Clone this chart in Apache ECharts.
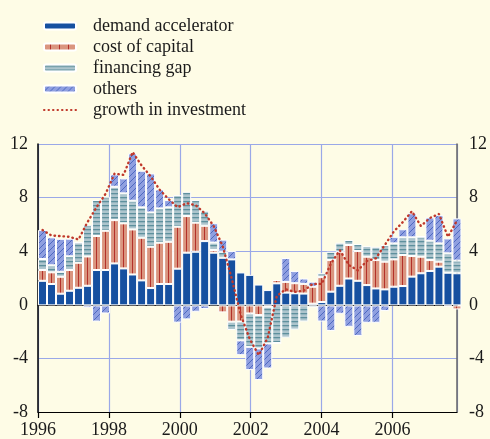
<!DOCTYPE html>
<html>
<head>
<meta charset="utf-8">
<script src="https://cdn.jsdelivr.net/npm/echarts@6/dist/echarts.min.js"></script>
<style>
  html, body { margin: 0; padding: 0; background: #fefce6; }
  #main { width: 490px; height: 439px; }
</style>
</head>
<body>
<div id="main"></div>
<script>
// quarterly observations 1996Q1 - 2007Q3
var quarters = [
  '1996Q1','1996Q2','1996Q3','1996Q4','1997Q1','1997Q2','1997Q3','1997Q4',
  '1998Q1','1998Q2','1998Q3','1998Q4','1999Q1','1999Q2','1999Q3','1999Q4',
  '2000Q1','2000Q2','2000Q3','2000Q4','2001Q1','2001Q2','2001Q3','2001Q4',
  '2002Q1','2002Q2','2002Q3','2002Q4','2003Q1','2003Q2','2003Q3','2003Q4',
  '2004Q1','2004Q2','2004Q3','2004Q4','2005Q1','2005Q2','2005Q3','2005Q4',
  '2006Q1','2006Q2','2006Q3','2006Q4','2007Q1','2007Q2','2007Q3'
];
var demandAccelerator = [
  1.83, 1.59, 0.87, 1.09, 1.31, 1.46, 2.63, 2.63, 3.12, 2.75,
  2.30, 1.86, 1.29, 1.59, 1.59, 2.73, 3.92, 3.99, 4.78, 3.92,
  3.54, 3.42, 2.45, 2.27, 1.55, 1.14, 1.64, 0.95, 0.90, 0.88,
  0.13, 0.25, 1.02, 1.46, 2.00, 1.83, 1.51, 1.26, 1.19, 1.39,
  1.44, 2.14, 2.39, 2.56, 2.88, 2.43, 2.39
];
var costOfCapital = [
  0.80, 0.87, 1.26, 1.54, 1.86, 2.18, 2.53, 2.92, 3.22, 3.35,
  3.35, 3.17, 3.07, 3.07, 3.14, 3.12, 2.72, 2.16, 1.14, 0.20,
  -0.52, -1.21, -1.20, -0.60, -0.72, -0.10, 0.25, 0.80, 0.75, 0.72,
  1.26, 1.85, 2.35, 2.53, 2.49, 2.21, 2.11, 2.11, 2.06, 2.03,
  2.31, 1.53, 1.23, 0.81, 0.37, -0.10, -0.30
];
var financingGap = [
  0.82, 0.52, 0.37, 1.02, 1.51, 2.35, 2.68, 2.53, 2.48, 2.23,
  2.13, 2.26, 2.55, 2.55, 2.56, 2.35, 1.81, 1.68, 1.12, 0.55,
  0.45, -0.62, -1.40, -2.48, -2.48, -2.73, -2.80, -2.40, -1.80, -1.20,
  -0.15, 0.30, 0.62, 0.67, 0.37, 0.52, 0.79, 0.99, 1.24, 1.19,
  1.31, 1.39, 1.49, 1.44, 1.36, 1.44, 0.94
];
var others = [
  2.16, 2.08, 2.45, 1.31, 0.00, -0.17, -1.20, -0.60, 0.92, 1.11,
  3.52, 2.72, 2.90, 1.41, 0.54, -1.28, -1.04, -0.47, -0.27, 1.44,
  0.90, 0.62, -1.10, -1.73, -2.35, -1.86, 0.00, 1.77, 0.90, 0.40,
  0.37, -1.20, -1.90, -0.62, -1.59, -2.27, -1.29, -1.29, -0.42, 0.49,
  0.60, 1.79, 0.00, 1.73, 2.10, 1.11, 3.14
];
var growthInvestment = [
  5.6, 5.2, 5.15, 5.1, 4.9, 6.2, 7.3, 8.3, 9.8, 9.7,
  11.4, 10.4, 9.6, 8.6, 7.9, 7.3, 7.6, 7.45, 6.85, 5.9,
  4.4, 2.0, -0.7, -2.5, -3.7, -2.4, 0.7, 1.2, 1.0, 1.1,
  1.6, 1.6, 3.1, 4.1, 3.0, 2.6, 3.3, 3.5, 4.5, 5.5,
  6.2, 7.0, 5.9, 6.5, 6.8, 5.1, 6.3
];
var yTicks = [-8, -4, 0, 4, 8, 12];
var yearTicks = [1996, 1998, 2000, 2002, 2004, 2006];

// small canvas tiles for the hatched fills
function tile(w, h, bg, draw) {
  var c = document.createElement('canvas');
  c.width = w; c.height = h;
  var g = c.getContext('2d');
  g.fillStyle = bg;
  g.fillRect(0, 0, w, h);
  draw(g);
  return { image: c, repeat: 'repeat' };
}
var costFill = tile(9, 4, '#da957f', function (g) {
  g.fillStyle = '#b3312a';
  g.fillRect(6, 0, 1, 4);
});
var gapFill = tile(4, 4, '#adc5cd', function (g) {
  g.fillStyle = '#5e909d';
  g.fillRect(0, 1, 4, 1.3);
});
var othersFill = tile(6, 6, '#8f9fe0', function (g) {
  g.strokeStyle = '#3d5cb8';
  g.lineWidth = 0.8;
  g.beginPath();
  g.moveTo(-1, 7); g.lineTo(7, -1);
  g.moveTo(-1, 1); g.lineTo(1, -1);
  g.moveTo(5, 7); g.lineTo(7, 5);
  g.stroke();
});

var font = 'Liberation Serif, Times New Roman, serif';
var xMin = 1996, xMax = 2007.82;
// one quarter is 9.01px wide in the original, bars sit in their own grid
var barGridWidth = quarters.length * 9.01;

var chart = echarts.init(document.getElementById('main'));

function barSeries(name, vals, fill) {
  return {
    name: name,
    type: 'bar',
    stack: 'total',
    xAxisIndex: 2,
    yAxisIndex: 2,
    barWidth: 9,
    data: vals,
    itemStyle: { color: fill, borderColor: '#ffffff', borderWidth: 1 }
  };
}

chart.setOption({
  animation: false,
  backgroundColor: '#fefce6',
  textStyle: { fontFamily: font },
  legend: {
    orient: 'vertical',
    left: 38,
    top: 12,
    itemWidth: 32,
    itemHeight: 7,
    itemGap: 3,
    textStyle: { fontFamily: font, fontSize: 18, color: '#1a1a1a', lineHeight: 18, padding: [0, 0, 0, 12] },
    data: ['demand accelerator', 'cost of capital', 'financing gap', 'others',
      { name: 'growth in investment', itemStyle: { opacity: 0 } }]
  },
  grid: [
    { left: 38, right: 26, top: 144, bottom: 26 },
    { left: 38, width: barGridWidth, top: 144, bottom: 26 }
  ],
  xAxis: [{
    type: 'value',
    gridIndex: 0,
    min: xMin,
    max: xMax,
    interval: 2,
    position: 'bottom',
    axisLine: { onZero: false, lineStyle: { color: '#000', width: 1.2 } },
    axisTick: { show: true, length: 6, lineStyle: { color: '#000', width: 1.2 } },
    axisLabel: {
      margin: 9, fontSize: 18, color: '#1a1a1a', fontFamily: font, showMaxLabel: false,
      formatter: function (v) { return yearTicks.indexOf(v) >= 0 ? String(v) : ''; }
    },
    splitLine: { show: true, lineStyle: { color: '#9aa8e8', width: 1.2 } }
  }, {
    type: 'value',
    gridIndex: 0,
    min: xMin,
    max: xMax,
    axisLine: { onZero: true, lineStyle: { color: '#000', width: 1.2 } },
    axisTick: { show: false },
    axisLabel: { show: false },
    splitLine: { show: false }
  }, {
    type: 'category',
    gridIndex: 1,
    data: quarters,
    boundaryGap: true,
    show: false
  }],
  yAxis: [{
    type: 'value',
    gridIndex: 0,
    min: yTicks[0],
    max: yTicks[yTicks.length - 1],
    interval: 4,
    axisLine: { show: true, onZero: false, lineStyle: { color: '#000', width: 1.5 } },
    axisTick: { show: false },
    axisLabel: { margin: 10, fontSize: 18, color: '#1a1a1a', fontFamily: font },
    splitLine: { show: true, lineStyle: { color: '#9aa8e8', width: 1.2 } }
  }, {
    type: 'value',
    gridIndex: 0,
    position: 'right',
    min: yTicks[0],
    max: yTicks[yTicks.length - 1],
    interval: 4,
    axisLine: { show: true, onZero: false, lineStyle: { color: '#666', width: 1.5 } },
    axisTick: { show: false },
    axisLabel: { margin: 12, fontSize: 18, color: '#1a1a1a', fontFamily: font },
    splitLine: { show: false }
  }, {
    type: 'value',
    gridIndex: 1,
    min: yTicks[0],
    max: yTicks[yTicks.length - 1],
    interval: 4,
    show: false
  }],
  series: [
    barSeries('demand accelerator', demandAccelerator, '#1650a0'),
    barSeries('cost of capital', costOfCapital, costFill),
    barSeries('financing gap', financingGap, gapFill),
    barSeries('others', others, othersFill),
    {
      name: 'growth in investment',
      type: 'line',
      xAxisIndex: 2,
      yAxisIndex: 2,
      z: 5,
      symbol: 'none',
      data: growthInvestment,
      lineStyle: { color: '#c0392b', width: 2.4, type: [0.5, 4], cap: 'round' },
      itemStyle: { color: '#c0392b' }
    }
  ]
});
</script>
</body>
</html>
